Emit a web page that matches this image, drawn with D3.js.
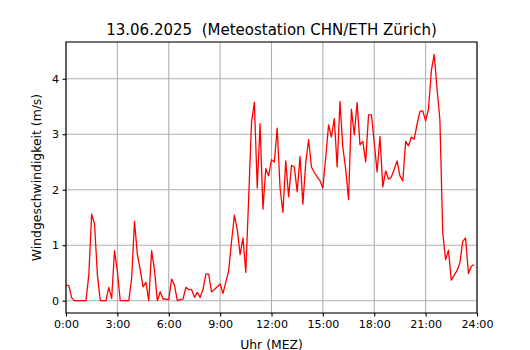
<!DOCTYPE html>
<html>
<head>
<meta charset="utf-8">
<script src="https://cdn.jsdelivr.net/npm/d3@7"></script>
<style>
  body { margin: 0; background: #fff; }
  svg { display: block; font-family: 'DejaVu Sans', sans-serif; }
</style>
</head>
<body>
<div id="chart"></div>
<script>
// wind speed, 10-minute values from 0:00 to 23:50
const speed = [
  0.28, 0.27, 0.05, 0, 0, 0, 0, 0, 0.47, 1.56,
  1.38, 0.47, 0, 0, 0, 0.24, 0.04, 0.9, 0.53, 0,
  0, 0, 0, 0.4, 1.43, 0.84, 0.56, 0.25, 0.33, 0,
  0.9, 0.55, 0, 0.16, 0.03, 0.03, 0.02, 0.39, 0.28, 0,
  0.02, 0.03, 0.24, 0.2, 0.2, 0.06, 0.15, 0.06, 0.2, 0.48,
  0.48, 0.16, 0.2, 0.25, 0.3, 0.13, 0.34, 0.54, 1.07, 1.54,
  1.28, 0.83, 1.13, 0.51, 1.85, 3.21, 3.58, 2.03, 3.19, 1.65,
  2.38, 2.25, 2.54, 2.5, 3.11, 2.03, 1.59, 2.52, 1.87, 2.44,
  2.41, 1.96, 2.6, 1.74, 2.49, 2.9, 2.41, 2.31, 2.23, 2.16,
  2.03, 2.58, 3.17, 2.95, 3.28, 2.41, 3.59, 2.76, 2.37, 1.82,
  3.45, 2.99, 3.57, 2.81, 2.87, 2.5, 3.35, 3.35, 2.85, 2.32,
  2.96, 2.05, 2.34, 2.19, 2.23, 2.37, 2.52, 2.25, 2.16, 2.87,
  2.79, 2.95, 2.91, 3.18, 3.41, 3.42, 3.24, 3.45, 4.14, 4.44,
  3.82, 3.26, 1.22, 0.74, 0.91, 0.37, 0.46, 0.54, 0.68, 1.07,
  1.13, 0.49, 0.62, 0.65
]
const hours = speed.map((d, i) => i / 6)
const xTicks = [0, 3, 6, 9, 12, 15, 18, 21, 24]
const yTicks = [0, 1, 2, 3, 4]
const title = '13.06.2025\u00a0\u00a0(Meteostation CHN/ETH Zürich)'

const width = 530
const height = 350
const margin = { top: 42, right: 53, bottom: 37, left: 66 }

const svg = d3.select('#chart').append('svg')
  .attr('width', width)
  .attr('height', height)

const x = d3.scaleLinear()
  .domain([0, 24])
  .range([margin.left, width - margin.right])

const yMax = d3.max(speed)
const pad = yMax * 0.05
const y = d3.scaleLinear()
  .domain([-pad, yMax + pad])
  .range([height - margin.bottom, margin.top])

// grid
svg.append('g')
  .attr('stroke', '#b0b0b0')
  .attr('stroke-width', 1.1)
  .call(g => g.selectAll('.vx').data(xTicks).join('line')
    .attr('x1', d => x(d)).attr('x2', d => x(d))
    .attr('y1', margin.top).attr('y2', height - margin.bottom))
  .call(g => g.selectAll('.hy').data(yTicks).join('line')
    .attr('x1', margin.left).attr('x2', width - margin.right)
    .attr('y1', d => y(d)).attr('y2', d => y(d)))

// line
const clipId = 'plot-clip'
svg.append('clipPath').attr('id', clipId)
  .append('rect')
  .attr('x', margin.left).attr('y', margin.top)
  .attr('width', width - margin.left - margin.right)
  .attr('height', height - margin.top - margin.bottom)

svg.append('path')
  .datum(speed)
  .attr('clip-path', `url(#${clipId})`)
  .attr('fill', 'none')
  .attr('stroke', 'red')
  .attr('stroke-width', 1.3)
  .attr('stroke-linejoin', 'round')
  .attr('d', d3.line().x((d, i) => x(hours[i])).y(d => y(d)))

// axes
const xAxis = svg.append('g')
  .attr('transform', `translate(0,${height - margin.bottom})`)
  .call(d3.axisBottom(x).tickValues(xTicks).tickFormat(d => `${d}:00`)
    .tickSize(3.5).tickPadding(3.5))
const yAxis = svg.append('g')
  .attr('transform', `translate(${margin.left},0)`)
  .call(d3.axisLeft(y).tickValues(yTicks).tickFormat(d3.format('d'))
    .tickSize(3.5).tickPadding(3.5))

for (const ax of [xAxis, yAxis]) {
  ax.select('.domain').remove()
  ax.selectAll('line').attr('stroke', '#000').attr('stroke-width', 1.1)
  ax.selectAll('text').attr('fill', '#000')
    .style('font-size', '11.1px').style('font-family', 'DejaVu Sans')
}

// frame
svg.append('rect')
  .attr('x', margin.left).attr('y', margin.top)
  .attr('width', width - margin.left - margin.right)
  .attr('height', height - margin.top - margin.bottom)
  .attr('fill', 'none')
  .attr('stroke', '#000')
  .attr('stroke-width', 1.1)

// labels
svg.append('text')
  .attr('x', (margin.left + width - margin.right) / 2)
  .attr('y', 34.5)
  .attr('text-anchor', 'middle')
  .style('font-size', '15px')
  .text(title)

svg.append('text')
  .attr('x', (margin.left + width - margin.right) / 2)
  .attr('y', 348.5)
  .attr('text-anchor', 'middle')
  .style('font-size', '12.4px')
  .text('Uhr (MEZ)')

svg.append('text')
  .attr('transform', `translate(41,${(margin.top + height - margin.bottom) / 2}) rotate(-90)`)
  .attr('text-anchor', 'middle')
  .style('font-size', '12.4px')
  .text('Windgeschwindigkeit (m/s)')
</script>
</body>
</html>
